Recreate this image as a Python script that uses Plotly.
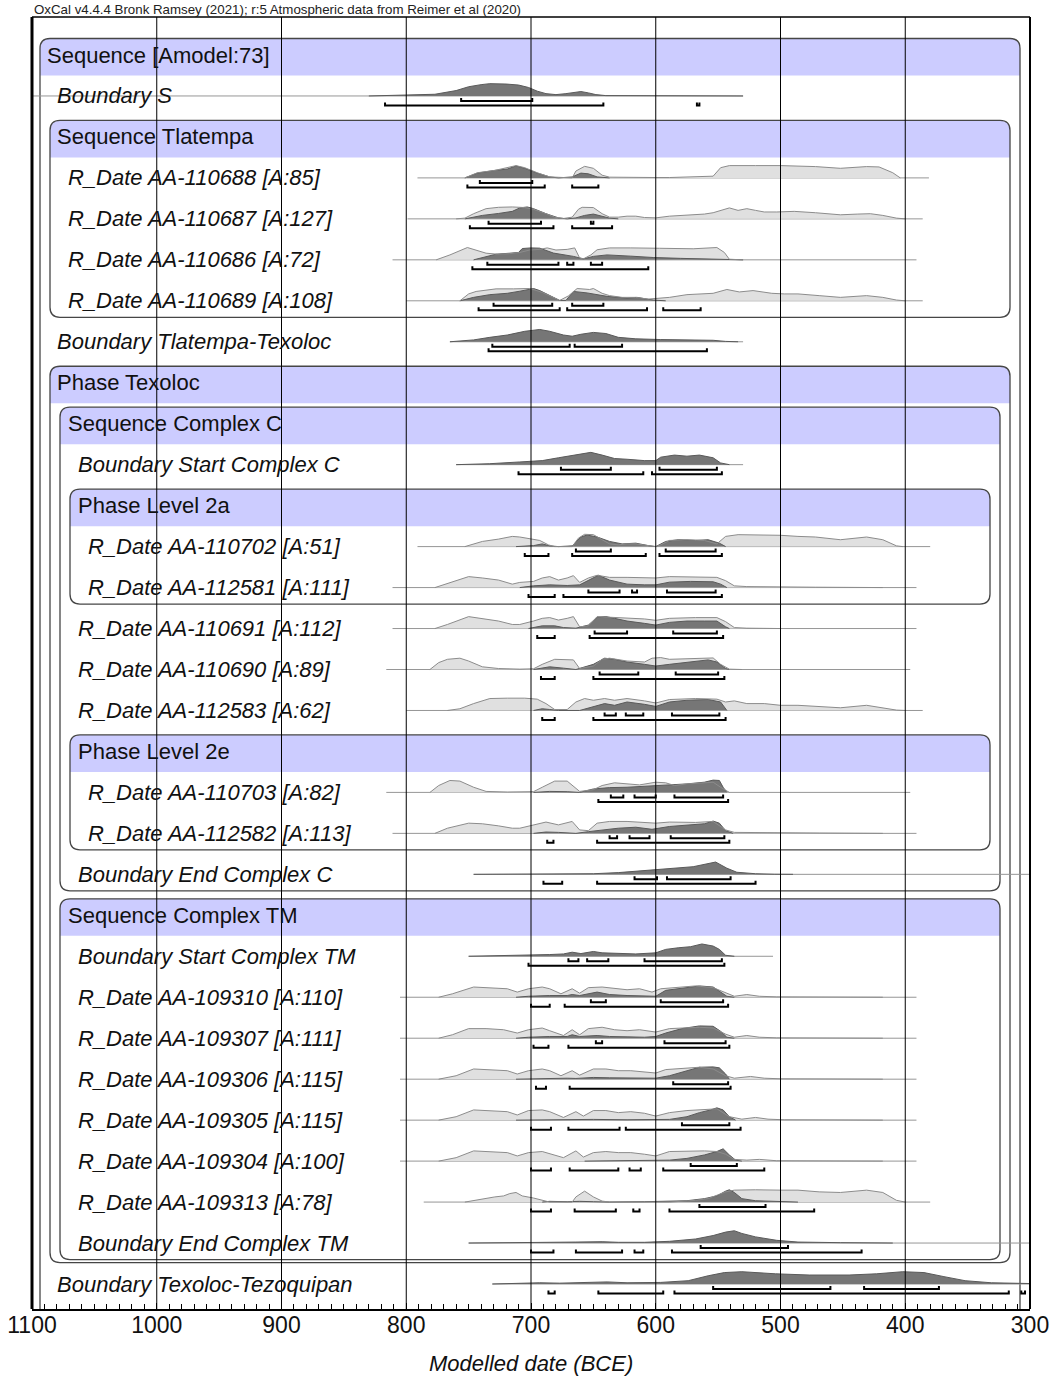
import plotly.graph_objects as go

# ---------------------------------------------------------------------------
# Row labels (top to bottom) and their nesting depth
# ---------------------------------------------------------------------------
row_labels = [
    "Sequence [Amodel:73]", "Boundary S", "Sequence Tlatempa",
    "R_Date AA-110688 [A:85]", "R_Date AA-110687 [A:127]",
    "R_Date AA-110686 [A:72]", "R_Date AA-110689 [A:108]",
    "Boundary Tlatempa-Texoloc", "Phase Texoloc", "Sequence Complex C",
    "Boundary Start Complex C", "Phase Level 2a",
    "R_Date AA-110702 [A:51]", "R_Date AA-112581 [A:111]",
    "R_Date AA-110691 [A:112]", "R_Date AA-110690 [A:89]",
    "R_Date AA-112583 [A:62]", "Phase Level 2e",
    "R_Date AA-110703 [A:82]", "R_Date AA-112582 [A:113]",
    "Boundary End Complex C", "Sequence Complex TM",
    "Boundary Start Complex TM", "R_Date AA-109310 [A:110]",
    "R_Date AA-109307 [A:111]", "R_Date AA-109306 [A:115]",
    "R_Date AA-109305 [A:115]", "R_Date AA-109304 [A:100]",
    "R_Date AA-109313 [A:78]", "Boundary End Complex TM",
    "Boundary Texoloc-Tezoquipan",
]
row_depth = [0, 1, 1, 2, 2, 2, 2, 1, 1, 2, 3, 3, 4, 4, 3, 3, 3, 3, 4, 4, 3,
             2, 3, 3, 3, 3, 3, 3, 3, 3, 1]
header_rows = [0, 2, 8, 9, 11, 17, 21]

# groups: (header row, last row, depth, extra bottom padding px)
groups = [(0, None, 0, 0), (2, 6, 1, 0), (8, 29, 1, 3), (9, 20, 2, 0),
          (11, 13, 3, 0), (17, 19, 3, 0), (21, 29, 2, 0)]

# ---------------------------------------------------------------------------
# Distributions: (year BCE, height in % of full height)
# lik = unmodelled likelihood (light), post = modelled posterior (dark)
# r68 / r95 = highest posterior density ranges, span = plotted extent
# ---------------------------------------------------------------------------
boundary_s_post = [(830, 0), (800, 6), (777, 14), (760, 44), (750, 75), (740, 92), (733, 100),
                   (720, 97), (710, 89), (702, 69), (695, 39), (688, 19), (680, 11), (672, 19),
                   (665, 31), (660, 36), (654, 25), (648, 11), (640, 3), (620, 2), (580, 2),
                   (568, 3), (560, 1), (530, 0)]
boundary_s_r68 = [(756, 699)]
boundary_s_r95 = [(817, 642), (567, 565)]
boundary_s_span = (1110, 530)

aa110688_lik = [(753, 0), (743, 42), (729, 61), (719, 83), (712, 100), (705, 83), (695, 42),
                (685, 8), (678, 3), (667, 0), (664, 56), (657, 94), (650, 78), (643, 22),
                (637, 6), (623, 3), (609, 6), (600, 3), (589, 3), (568, 8), (554, 14),
                (548, 83), (541, 100), (520, 100), (500, 100), (472, 92), (452, 78),
                (431, 92), (421, 89), (410, 42), (404, 0)]
aa110688_post = [(753, 0), (743, 39), (729, 61), (719, 72), (712, 97), (705, 78), (695, 39),
                 (685, 8), (678, 0), (667, 8), (660, 39), (654, 33), (647, 8), (637, 0)]
aa110688_r68 = [(741, 699)]
aa110688_r95 = [(751, 689), (667, 646)]
aa110688_span = (791, 381)

aa110687_lik = [(760, 0), (753, 6), (746, 42), (736, 83), (726, 94), (715, 97), (705, 92),
                (698, 78), (688, 42), (681, 14), (674, 3), (667, 14), (662, 78), (659, 94),
                (650, 92), (643, 42), (637, 14), (630, 14), (623, 22), (616, 22), (609, 11),
                (600, 8), (589, 22), (575, 28), (561, 39), (554, 50), (548, 69), (541, 89),
                (534, 69), (527, 83), (520, 69), (513, 56), (503, 56), (489, 61), (472, 50),
                (452, 33), (438, 39), (428, 42), (418, 28), (407, 6), (400, 0)]
aa110687_post = [(753, 0), (739, 28), (726, 44), (715, 61), (709, 89), (703, 97), (698, 83),
                 (688, 42), (678, 8), (671, 0), (664, 8), (657, 28), (650, 39), (643, 22),
                 (637, 6), (630, 0)]
aa110687_r68 = [(734, 692), (652, 650)]
aa110687_r95 = [(749, 682), (667, 635)]
aa110687_span = (799, 386)

aa110686_lik = [(776, 0), (765, 40), (751, 100), (736, 54), (727, 46), (717, 50), (709, 60),
                (701, 80), (693, 85), (687, 97), (680, 80), (676, 80), (671, 85), (665, 97),
                (661, 15), (658, 8), (652, 40), (647, 82), (637, 97), (620, 97), (602, 92),
                (597, 94), (570, 90), (551, 100), (545, 60), (541, 5), (530, 0)]
aa110686_post = [(746, 0), (728, 46), (717, 54), (710, 60), (707, 92), (700, 97), (693, 95),
                 (682, 55), (666, 28), (658, 8), (650, 28), (639, 40), (620, 30), (602, 19),
                 (580, 12), (560, 8), (545, 3), (530, 0)]
aa110686_r68 = [(735, 678), (671, 666), (652, 643)]
aa110686_r95 = [(747, 606)]
aa110686_span = (811, 391)

aa110689_lik = [(757, 0), (750, 56), (744, 76), (728, 97), (714, 97), (701, 100), (691, 69),
                (681, 22), (677, 3), (670, 40), (663, 100), (653, 92), (650, 100),
                (643, 61), (637, 42), (627, 28), (616, 28), (606, 14), (597, 20), (589, 28),
                (575, 50), (561, 56), (554, 61), (543, 92), (533, 72), (522, 83), (507, 61),
                (497, 56), (486, 56), (469, 42), (452, 28), (431, 42), (418, 28),
                (407, 6), (400, 0)]
aa110689_post = [(757, 0), (746, 28), (733, 50), (719, 61), (709, 78), (698, 100), (693, 83),
                 (685, 42), (677, 3), (672, 3), (666, 76), (655, 64), (647, 50),
                 (639, 36), (623, 22), (615, 28), (609, 17), (602, 6), (592, 0)]
aa110689_r68 = [(730, 683), (667, 642)]
aa110689_r95 = [(742, 677), (671, 607), (594, 564)]
aa110689_span = (800, 386)

b_tlat_texo_post = [(765, 0), (746, 15), (733, 36), (719, 55), (705, 85), (693, 100), (685, 85),
                    (674, 55), (667, 45), (660, 61), (650, 76), (640, 67), (630, 36), (616, 24),
                    (596, 18), (575, 15), (554, 12), (544, 3), (534, 0)]
b_tlat_texo_r68 = [(731, 669), (665, 627)]
b_tlat_texo_r95 = [(734, 559)]
b_tlat_texo_span = (765, 530)

b_start_c_post = [(760, 0), (733, 8), (709, 22), (691, 33), (678, 56), (664, 83), (652, 100),
                  (643, 78), (633, 50), (623, 44), (609, 33), (600, 33), (596, 61), (585, 78),
                  (575, 69), (565, 78), (554, 56), (548, 14), (541, 0)]
b_start_c_r68 = [(676, 636), (597, 551)]
b_start_c_r95 = [(710, 610), (603, 547)]
b_start_c_span = (760, 530)

aa110702_lik = [(753, 0), (739, 42), (726, 61), (715, 83), (709, 78), (700, 61), (693, 50),
                (686, 14), (681, 0), (667, 0), (662, 69), (657, 100), (650, 97), (643, 56),
                (637, 22), (630, 14), (623, 22), (616, 22), (606, 8), (600, 0), (596, 14),
                (589, 50), (575, 56), (561, 50), (551, 22), (544, 83), (534, 97), (520, 97),
                (500, 92), (486, 83), (472, 78), (452, 56), (431, 78), (418, 56), (407, 6),
                (402, 0)]
aa110702_post = [(712, 0), (698, 8), (691, 22), (685, 6), (678, 0), (667, 6), (660, 78),
                 (655, 94), (647, 78), (637, 42), (627, 22), (616, 28), (606, 8), (600, 0),
                 (592, 42), (582, 56), (568, 50), (558, 56), (549, 28), (544, 0)]
aa110702_r68 = [(664, 636), (592, 552)]
aa110702_r95 = [(705, 686), (667, 608), (597, 547)]
aa110702_span = (791, 380)

aa112581_lik = [(777, 0), (767, 33), (750, 89), (739, 78), (726, 61), (715, 28), (709, 42),
                (698, 50), (691, 78), (685, 89), (678, 61), (671, 78), (666, 97), (661, 42),
                (654, 78), (647, 100), (637, 83), (623, 83), (609, 83), (600, 78), (589, 89),
                (568, 89), (551, 83), (544, 56), (537, 14), (527, 8), (513, 6), (500, 3),
                (472, 3), (418, 0)]
aa112581_post = [(709, 0), (698, 14), (685, 22), (671, 17), (661, 22), (654, 56), (646, 100),
                 (637, 61), (623, 28), (609, 22), (600, 22), (589, 44), (572, 50), (554, 47),
                 (548, 28), (543, 0)]
aa112581_r68 = [(654, 629), (619, 615), (591, 552)]
aa112581_r95 = [(702, 681), (674, 547)]
aa112581_span = (811, 391)

aa110691_lik = [(777, 0), (767, 33), (750, 97), (739, 78), (726, 61), (715, 33), (709, 33),
                (698, 61), (691, 83), (685, 89), (678, 69), (671, 83), (666, 97), (661, 14),
                (654, 22), (647, 97), (637, 92), (623, 83), (609, 78), (600, 67), (589, 83),
                (568, 89), (551, 89), (544, 56), (537, 8), (527, 3), (513, 3), (500, 0)]
aa110691_post = [(702, 0), (691, 22), (681, 22), (674, 8), (664, 3), (654, 28), (647, 92),
                 (640, 97), (633, 83), (623, 61), (609, 42), (600, 28), (589, 50), (575, 61),
                 (561, 61), (551, 61), (544, 14), (541, 0)]
aa110691_r68 = [(649, 623), (586, 551)]
aa110691_r95 = [(695, 681), (653, 546)]
aa110691_span = (811, 391)

aa110690_lik = [(781, 0), (774, 56), (767, 83), (757, 92), (750, 69), (739, 22), (726, 8),
                (709, 3), (698, 6), (691, 42), (681, 83), (671, 83), (666, 78), (661, 8),
                (650, 28), (643, 83), (637, 92), (623, 69), (609, 61), (603, 92), (596, 97),
                (589, 83), (575, 89), (561, 92), (554, 94), (548, 42), (541, 3), (531, 0)]
aa110690_post = [(698, 0), (691, 14), (685, 22), (674, 11), (664, 0), (650, 42), (641, 92),
                 (633, 83), (623, 61), (609, 42), (600, 28), (589, 42), (575, 61), (558, 78),
                 (551, 61), (544, 8), (541, 0)]
aa110690_r68 = [(645, 614), (584, 550)]
aa110690_r95 = [(692, 681), (650, 545)]
aa110690_span = (816, 396)

aa112583_lik = [(767, 0), (757, 14), (746, 56), (733, 97), (719, 100), (705, 100), (695, 92),
                (688, 56), (681, 8), (671, 8), (664, 69), (657, 97), (650, 83), (641, 97),
                (633, 83), (623, 97), (609, 78), (600, 61), (589, 89), (568, 97), (551, 92),
                (544, 69), (537, 78), (527, 56), (513, 56), (500, 42), (486, 42), (466, 28),
                (452, 22), (431, 42), (418, 22), (407, 3), (400, 0)]
aa112583_post = [(698, 0), (691, 14), (685, 8), (678, 0), (661, 0), (650, 28), (641, 56),
                 (633, 42), (623, 69), (609, 50), (600, 33), (589, 69), (575, 83), (558, 89),
                 (548, 69), (543, 0)]
aa112583_r68 = [(641, 632), (624, 610), (587, 549)]
aa112583_r95 = [(691, 681), (650, 544)]
aa112583_span = (800, 386)

aa110703_lik = [(781, 0), (774, 56), (765, 97), (757, 92), (746, 42), (736, 8), (719, 3),
                (698, 6), (691, 42), (681, 92), (671, 92), (661, 8), (650, 22), (643, 56),
                (633, 78), (623, 69), (613, 61), (600, 83), (592, 78), (585, 56), (575, 69),
                (561, 78), (554, 83), (548, 42), (541, 0)]
aa110703_post = [(698, 0), (685, 8), (671, 6), (661, 0), (650, 28), (637, 39), (623, 42),
                 (609, 50), (600, 50), (589, 56), (575, 69), (561, 83), (554, 100), (549, 97),
                 (546, 42), (543, 0)]
aa110703_r68 = [(636, 626), (617, 600), (585, 546)]
aa110703_r95 = [(646, 542)]
aa110703_span = (816, 396)

aa112582_lik = [(777, 0), (767, 42), (750, 83), (739, 78), (726, 61), (715, 42), (709, 42),
                (698, 69), (688, 92), (678, 69), (667, 97), (661, 28), (654, 22), (647, 83),
                (637, 97), (623, 97), (609, 92), (600, 83), (589, 92), (568, 89), (554, 97),
                (544, 28), (537, 8), (520, 6), (500, 3), (469, 3), (418, 0)]
aa112582_post = [(698, 0), (688, 11), (678, 8), (664, 0), (654, 14), (643, 28), (630, 42),
                 (616, 50), (603, 33), (589, 56), (575, 69), (561, 78), (554, 100), (549, 83),
                 (544, 22), (538, 0)]
aa112582_r68 = [(637, 631), (621, 605), (588, 545)]
aa112582_r95 = [(687, 682), (647, 541)]
aa112582_span = (811, 391)

b_end_c_post = [(746, 0), (701, 4), (650, 5), (630, 14), (602, 35), (570, 62), (552, 100),
                (543, 50), (535, 17), (520, 5), (505, 1), (490, 0)]
b_end_c_r68 = [(617, 599), (591, 540)]
b_end_c_r95 = [(690, 675), (647, 520)]
b_end_c_span = (746, 278)

b_start_tm_post = [(750, 0), (726, 3), (702, 8), (685, 14), (674, 19), (667, 33), (660, 22),
                   (650, 39), (643, 28), (630, 22), (616, 19), (600, 28), (592, 56), (582, 69),
                   (572, 78), (563, 100), (554, 83), (549, 56), (544, 8), (537, 0)]
b_start_tm_r68 = [(670, 662), (655, 638), (609, 547)]
b_start_tm_r95 = [(702, 545)]
b_start_tm_span = (750, 506)

aa109310_lik = [(774, 0), (763, 28), (746, 83), (733, 78), (719, 69), (711, 42), (702, 69),
                (691, 83), (685, 69), (676, 28), (667, 69), (661, 33), (654, 78), (643, 83),
                (633, 69), (623, 61), (613, 69), (603, 42), (596, 69), (582, 83), (568, 92),
                (554, 78), (544, 33), (537, 8), (527, 22), (517, 8), (503, 3), (469, 3),
                (418, 0)]
aa109310_post = [(712, 0), (702, 8), (685, 14), (671, 14), (667, 22), (661, 14), (647, 42),
                 (637, 22), (623, 14), (609, 8), (600, 8), (592, 56), (579, 72), (565, 92),
                 (554, 83), (548, 42), (543, 8), (537, 0)]
aa109310_r68 = [(652, 640), (596, 546)]
aa109310_r95 = [(700, 685), (673, 542)]
aa109310_span = (805, 391)

aa109307_lik = [(774, 0), (763, 28), (750, 78), (736, 78), (722, 69), (711, 42), (702, 69),
                (691, 83), (685, 61), (674, 22), (667, 69), (661, 28), (654, 78), (643, 89),
                (633, 69), (623, 61), (613, 69), (600, 50), (589, 78), (575, 83), (565, 89),
                (554, 83), (544, 33), (537, 8), (527, 22), (517, 8), (503, 3), (418, 0)]
aa109307_post = [(712, 0), (702, 8), (685, 14), (671, 14), (667, 28), (661, 14), (647, 22),
                 (637, 14), (623, 11), (609, 8), (600, 14), (592, 42), (579, 78), (565, 100),
                 (554, 97), (548, 56), (543, 8), (537, 0)]
aa109307_r68 = [(648, 643), (593, 544)]
aa109307_r95 = [(698, 686), (670, 541)]
aa109307_span = (805, 391)

aa109306_lik = [(774, 0), (760, 28), (746, 83), (733, 78), (719, 69), (711, 42), (702, 69),
                (691, 83), (685, 69), (676, 28), (667, 69), (661, 33), (650, 83), (640, 83),
                (630, 69), (620, 69), (609, 61), (600, 50), (592, 78), (579, 89), (565, 97),
                (554, 83), (544, 28), (537, 8), (524, 22), (513, 8), (500, 3), (418, 0)]
aa109306_post = [(712, 0), (691, 6), (671, 8), (664, 6), (650, 14), (637, 11), (616, 8),
                 (600, 8), (589, 28), (575, 69), (565, 97), (554, 100), (549, 92), (544, 42),
                 (541, 0)]
aa109306_r68 = [(586, 542)]
aa109306_r95 = [(696, 688), (669, 540)]
aa109306_span = (805, 391)

aa109305_lik = [(774, 0), (760, 28), (746, 83), (733, 78), (719, 69), (711, 42), (702, 78),
                (691, 83), (685, 69), (674, 22), (664, 69), (658, 33), (650, 78), (640, 78),
                (630, 61), (620, 69), (609, 56), (600, 33), (589, 61), (575, 78), (561, 83),
                (551, 92), (541, 28), (531, 8), (520, 22), (510, 8), (497, 3), (418, 0)]
aa109305_post = [(712, 0), (685, 3), (650, 6), (623, 3), (600, 3), (589, 6), (575, 28),
                 (565, 61), (556, 83), (551, 100), (546, 83), (541, 28), (536, 0)]
aa109305_r68 = [(579, 541)]
aa109305_r95 = [(700, 684), (670, 629), (624, 532)]
aa109305_span = (805, 391)

aa109304_lik = [(774, 0), (760, 28), (746, 83), (733, 78), (719, 69), (711, 42), (702, 69),
                (691, 78), (685, 61), (674, 28), (664, 83), (658, 33), (650, 69), (640, 78),
                (630, 69), (620, 69), (609, 56), (600, 42), (589, 78), (575, 83), (561, 83),
                (551, 78), (544, 56), (537, 14), (527, 8), (517, 14), (503, 3), (418, 0)]
aa109304_post = [(657, 0), (623, 3), (600, 6), (589, 8), (575, 22), (561, 50), (551, 78),
                 (546, 100), (541, 50), (536, 8), (531, 0)]
aa109304_r68 = [(572, 535)]
aa109304_r95 = [(700, 684), (669, 630), (621, 612), (594, 513)]
aa109304_span = (805, 391)

aa109313_lik = [(753, 0), (739, 28), (729, 42), (722, 50), (717, 69), (712, 78), (707, 50),
                (698, 33), (691, 14), (685, 0), (667, 0), (664, 42), (657, 89), (650, 42),
                (643, 8), (637, 0), (589, 0), (568, 14), (558, 28), (551, 56), (544, 83),
                (537, 97), (520, 100), (500, 97), (486, 97), (469, 83), (452, 78), (431, 97),
                (418, 78), (407, 14), (400, 0)]
aa109313_post = [(691, 0), (685, 6), (671, 3), (661, 6), (650, 3), (637, 0), (609, 3),
                 (589, 6), (575, 11), (561, 28), (551, 50), (544, 89), (541, 100), (537, 78),
                 (531, 28), (520, 11), (503, 3), (486, 0)]
aa109313_r68 = [(565, 512)]
aa109313_r95 = [(700, 684), (665, 632), (618, 613), (589, 473)]
aa109313_span = (786, 380)

b_end_tm_post = [(750, 0), (726, 1), (698, 6), (681, 3), (664, 8), (643, 11), (630, 6),
                 (609, 6), (589, 14), (568, 33), (554, 61), (544, 89), (537, 100), (531, 78),
                 (520, 50), (503, 22), (486, 8), (452, 3), (430, 1), (410, 0)]
b_end_tm_r68 = [(564, 494)]
b_end_tm_r95 = [(700, 682), (664, 627), (617, 610), (587, 435)]
b_end_tm_span = (750, 278)

b_texo_tezo_post = [(731, 0), (693, 10), (677, 7), (655, 10), (639, 17), (623, 10), (596, 13),
                    (574, 27), (558, 67), (545, 93), (531, 100), (504, 83), (477, 73),
                    (445, 73), (423, 83), (402, 100), (385, 93), (369, 60), (352, 27),
                    (331, 10), (300, 3), (280, 0)]
b_texo_tezo_r68 = [(554, 460), (433, 373)]
b_texo_tezo_r95 = [(686, 681), (646, 594), (585, 317), (307, 304)]
b_texo_tezo_span = (731, 278)

# row index -> (likelihood, posterior, 68% ranges, 95% ranges, span)
row_series = {
    1: (None, boundary_s_post, boundary_s_r68, boundary_s_r95, boundary_s_span),
    3: (aa110688_lik, aa110688_post, aa110688_r68, aa110688_r95, aa110688_span),
    4: (aa110687_lik, aa110687_post, aa110687_r68, aa110687_r95, aa110687_span),
    5: (aa110686_lik, aa110686_post, aa110686_r68, aa110686_r95, aa110686_span),
    6: (aa110689_lik, aa110689_post, aa110689_r68, aa110689_r95, aa110689_span),
    7: (None, b_tlat_texo_post, b_tlat_texo_r68, b_tlat_texo_r95, b_tlat_texo_span),
    10: (None, b_start_c_post, b_start_c_r68, b_start_c_r95, b_start_c_span),
    12: (aa110702_lik, aa110702_post, aa110702_r68, aa110702_r95, aa110702_span),
    13: (aa112581_lik, aa112581_post, aa112581_r68, aa112581_r95, aa112581_span),
    14: (aa110691_lik, aa110691_post, aa110691_r68, aa110691_r95, aa110691_span),
    15: (aa110690_lik, aa110690_post, aa110690_r68, aa110690_r95, aa110690_span),
    16: (aa112583_lik, aa112583_post, aa112583_r68, aa112583_r95, aa112583_span),
    18: (aa110703_lik, aa110703_post, aa110703_r68, aa110703_r95, aa110703_span),
    19: (aa112582_lik, aa112582_post, aa112582_r68, aa112582_r95, aa112582_span),
    20: (None, b_end_c_post, b_end_c_r68, b_end_c_r95, b_end_c_span),
    22: (None, b_start_tm_post, b_start_tm_r68, b_start_tm_r95, b_start_tm_span),
    23: (aa109310_lik, aa109310_post, aa109310_r68, aa109310_r95, aa109310_span),
    24: (aa109307_lik, aa109307_post, aa109307_r68, aa109307_r95, aa109307_span),
    25: (aa109306_lik, aa109306_post, aa109306_r68, aa109306_r95, aa109306_span),
    26: (aa109305_lik, aa109305_post, aa109305_r68, aa109305_r95, aa109305_span),
    27: (aa109304_lik, aa109304_post, aa109304_r68, aa109304_r95, aa109304_span),
    28: (aa109313_lik, aa109313_post, aa109313_r68, aa109313_r95, aa109313_span),
    29: (None, b_end_tm_post, b_end_tm_r68, b_end_tm_r95, b_end_tm_span),
    30: (None, b_texo_tezo_post, b_texo_tezo_r68, b_texo_tezo_r95, b_texo_tezo_span),
}

x_ticks = [1100, 1000, 900, 800, 700, 600, 500, 400, 300]

# ---------------------------------------------------------------------------
# Geometry
# ---------------------------------------------------------------------------
FIG_W, FIG_H = 1057, 1377
M_L, M_R, M_T, M_B = 32, 27, 17, 68
PLOT_W = FIG_W - M_L - M_R
PLOT_H = FIG_H - M_T - M_B
X_START, X_END = 1100, 300
ROW_PX = 40.967
Y_TOP = -38.0 / ROW_PX
Y_BOT = Y_TOP + PLOT_H / ROW_PX
PEAK = 12.3 / ROW_PX          # full curve height in row units
BAR68 = 5.0 / ROW_PX
BAR95 = 9.5 / ROW_PX
TICK = 3.0 / ROW_PX

LIGHT_FILL = "rgb(224,224,224)"
LIGHT_LINE = "rgb(140,140,140)"
DARK_FILL = "rgb(118,118,118)"
DARK_LINE = "rgb(90,90,90)"
BAND = "rgb(204,204,255)"
BOX_LINE = "rgb(70,70,70)"
FONT = "Liberation Sans, Arial, sans-serif"


def px_to_paper_x(px):
    return (px - M_L) / PLOT_W


def row_to_paper_y(r):
    return (Y_BOT - r) / (Y_BOT - Y_TOP)


fig = go.Figure()
shapes = []
annotations = []

# ---- group boxes with header bands ----
R_PX = 10.0
for head, last, depth, extra in groups:
    xl = px_to_paper_x(40 + 10 * depth)
    xr = px_to_paper_x(1020 - 10 * depth)
    rx = R_PX / PLOT_W
    ry = R_PX / ROW_PX
    top = head - 16.5 / ROW_PX
    band_bot = top + 37.0 / ROW_PX
    band = (f"M {xl},{band_bot} L {xl},{top + ry} Q {xl},{top} {xl + rx},{top} "
            f"L {xr - rx},{top} Q {xr},{top} {xr},{top + ry} L {xr},{band_bot} Z")
    shapes.append(dict(type="path", path=band, xref="paper", yref="y",
                       fillcolor=BAND, line=dict(width=0), layer="below"))
    if last is None:
        bot = Y_BOT
        outline = (f"M {xl},{bot} L {xl},{top + ry} Q {xl},{top} {xl + rx},{top} "
                   f"L {xr - rx},{top} Q {xr},{top} {xr},{top + ry} L {xr},{bot}")
    else:
        bot = last + (16.5 + extra) / ROW_PX
        outline = (f"M {xl},{bot - ry} L {xl},{top + ry} Q {xl},{top} {xl + rx},{top} "
                   f"L {xr - rx},{top} Q {xr},{top} {xr},{top + ry} L {xr},{bot - ry} "
                   f"Q {xr},{bot} {xr - rx},{bot} L {xl + rx},{bot} Q {xl},{bot} {xl},{bot - ry} Z")
    shapes.append(dict(type="path", path=outline, xref="paper", yref="y",
                       line=dict(color=BOX_LINE, width=1.3), layer="below"))

# ---- baselines of each distribution ----
for r, (lik, post, r68, r95, span) in row_series.items():
    yp = row_to_paper_y(r)
    shapes.append(dict(type="line", xref="x", yref="paper", x0=span[0], x1=span[1],
                       y0=yp, y1=yp, line=dict(color="rgb(150,150,150)", width=1),
                       layer="below"))

# ---- distributions and ranges ----
for r, (lik, post, r68, r95, span) in row_series.items():
    if lik is not None:
        xs = [p[0] for p in lik]
        ys = [r - p[1] / 100.0 * PEAK for p in lik]
        fig.add_trace(go.Scatter(x=xs, y=ys, mode="lines", fill="toself",
                                 fillcolor=LIGHT_FILL, line=dict(width=0),
                                 hoverinfo="skip", showlegend=False))
    xs = [p[0] for p in post]
    ys = [r - p[1] / 100.0 * PEAK for p in post]
    fig.add_trace(go.Scatter(x=xs, y=ys, mode="lines", fill="toself",
                             fillcolor=DARK_FILL, line=dict(color=DARK_LINE, width=1),
                             hoverinfo="skip", showlegend=False))
    if lik is not None:
        xs = [p[0] for p in lik]
        ys = [r - p[1] / 100.0 * PEAK for p in lik]
        fig.add_trace(go.Scatter(x=xs, y=ys, mode="lines",
                                 line=dict(color=LIGHT_LINE, width=1),
                                 hoverinfo="skip", showlegend=False))
    bx, by = [], []
    for ranges, off in ((r68, BAR68), (r95, BAR95)):
        yb = r + off
        for a, b in ranges:
            bx += [a, a, b, b, None]
            by += [yb - TICK, yb, yb, yb - TICK, None]
    fig.add_trace(go.Scatter(x=bx, y=by, mode="lines",
                             line=dict(color="black", width=2),
                             hoverinfo="skip", showlegend=False))

# ---- vertical grid lines (drawn on top) ----
for t in x_ticks[1:-1]:
    shapes.append(dict(type="line", xref="x", yref="paper", x0=t, x1=t, y0=0, y1=1,
                       line=dict(color="black", width=1), layer="above"))

# ---- plot frame ----
shapes.append(dict(type="line", xref="paper", yref="paper", x0=0, x1=1, y0=1, y1=1,
                   line=dict(color="black", width=1.5), layer="above"))
shapes.append(dict(type="line", xref="paper", yref="paper", x0=0, x1=0, y0=0, y1=1,
                   line=dict(color="black", width=3), layer="above"))
shapes.append(dict(type="line", xref="paper", yref="paper", x0=1, x1=1, y0=0, y1=1,
                   line=dict(color="black", width=2), layer="above"))

# ---- row labels ----
for i, lab in enumerate(row_labels):
    txt = lab if i in header_rows else f"<i>{lab}</i>"
    annotations.append(dict(text=txt, xref="paper", yref="y",
                            x=px_to_paper_x(45 + 10.3 * row_depth[i]), y=i,
                            xanchor="left", yanchor="middle", showarrow=False,
                            font=dict(family=FONT, size=22, color="#111")))

# ---- header line and axis title ----
annotations.append(dict(
    text="OxCal v4.4.4 Bronk Ramsey (2021); r:5 Atmospheric data from Reimer et al (2020)",
    xref="paper", yref="paper", x=0, y=1 + 7.5 / PLOT_H, xanchor="left", yanchor="middle",
    showarrow=False, font=dict(family=FONT, size=13.3, color="#222")))
annotations.append(dict(
    text="<i>Modelled date (BCE)</i>", xref="paper", yref="paper", x=0.5,
    y=-54.5 / PLOT_H, xanchor="center", yanchor="middle", showarrow=False,
    font=dict(family=FONT, size=22, color="#111")))

fig.update_layout(
    width=FIG_W, height=FIG_H,
    margin=dict(l=M_L, r=M_R, t=M_T, b=M_B, pad=0, autoexpand=False),
    paper_bgcolor="white", plot_bgcolor="white",
    showlegend=False, hovermode=False,
    shapes=shapes, annotations=annotations,
    xaxis=dict(range=[X_START, X_END], tickvals=x_ticks,
               ticktext=[str(t) for t in x_ticks], automargin=False,
               ticks="inside", ticklen=6, tickwidth=1, tickcolor="black",
               ticklabelstandoff=-6,
               minor=dict(dtick=10, ticks="inside", ticklen=5, tickwidth=1,
                          tickcolor="black", showgrid=False),
               showgrid=False, zeroline=False, showline=True, linecolor="black",
               linewidth=2, tickfont=dict(family=FONT, size=23, color="#111")),
    yaxis=dict(range=[Y_BOT, Y_TOP], visible=False, showgrid=False, zeroline=False,
               automargin=False),
)

fig.write_html("out.html")
